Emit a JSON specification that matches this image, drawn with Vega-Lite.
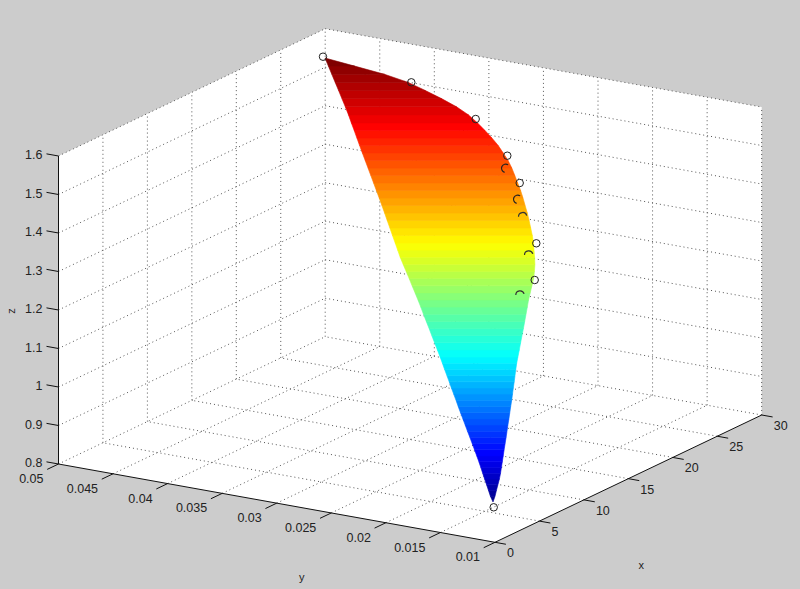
{
"$schema":"https://vega.github.io/schema/vega-lite/v6.json",
"width":800,"height":589,"padding":0,
"autosize":{"type":"fit","contains":"padding"},
"background":"#cccccc",
"config":{"view":{"stroke":null},"text":{"font":"Liberation Sans"}},
"layer":[
{"data":{"values":[
{"x":0,"y":0.05,"z":1.6,"xb":0,"yb":0.05,"zb":0.8},
{"x":30,"y":0.05,"z":1.6,"xb":0,"yb":0.02558,"zb":0.8},
{"x":30,"y":0.03444,"z":1.6,"xb":0,"yb":0.01,"zb":0.8},
{"x":30,"y":0.01,"z":1.6,"xb":30,"yb":0.01,"zb":0.8}]},
"transform":[
{"calculate":"495+8.89*datum.x-10912.5*(datum.y-0.01)","as":"sx"},
{"calculate":"542.3-4.243*datum.x-1957.5*(datum.y-0.01)-385*(datum.z-0.8)","as":"sy"},
{"calculate":"542.3-4.243*datum.xb-1957.5*(datum.yb-0.01)-385*(datum.zb-0.8)","as":"sy2"}],
"mark":{"type":"area","orient":"vertical","color":"#ffffff"},
"encoding":{"x":{"field":"sx","type":"quantitative","scale":{"domain":[0,800]},"axis":null},
"y":{"field":"sy","type":"quantitative","scale":{"domain":[589,0]},"axis":null,"stack":null},
"y2":{"field":"sy2"}}},
{"data":{"values":[
{"x":5,"y":0.01,"z":0.8,"xEnd":5,"yEnd":0.05,"zEnd":0.8},
{"x":10,"y":0.01,"z":0.8,"xEnd":10,"yEnd":0.05,"zEnd":0.8},
{"x":15,"y":0.01,"z":0.8,"xEnd":15,"yEnd":0.05,"zEnd":0.8},
{"x":20,"y":0.01,"z":0.8,"xEnd":20,"yEnd":0.05,"zEnd":0.8},
{"x":25,"y":0.01,"z":0.8,"xEnd":25,"yEnd":0.05,"zEnd":0.8},
{"x":30,"y":0.01,"z":0.8,"xEnd":30,"yEnd":0.05,"zEnd":0.8},
{"x":0,"y":0.015,"z":0.8,"xEnd":30,"yEnd":0.015,"zEnd":0.8},
{"x":0,"y":0.02,"z":0.8,"xEnd":30,"yEnd":0.02,"zEnd":0.8},
{"x":0,"y":0.025,"z":0.8,"xEnd":30,"yEnd":0.025,"zEnd":0.8},
{"x":0,"y":0.03,"z":0.8,"xEnd":30,"yEnd":0.03,"zEnd":0.8},
{"x":0,"y":0.035,"z":0.8,"xEnd":30,"yEnd":0.035,"zEnd":0.8},
{"x":0,"y":0.04,"z":0.8,"xEnd":30,"yEnd":0.04,"zEnd":0.8},
{"x":0,"y":0.045,"z":0.8,"xEnd":30,"yEnd":0.045,"zEnd":0.8},
{"x":0,"y":0.05,"z":0.8,"xEnd":30,"yEnd":0.05,"zEnd":0.8},
{"x":5,"y":0.05,"z":0.8,"xEnd":5,"yEnd":0.05,"zEnd":1.6},
{"x":10,"y":0.05,"z":0.8,"xEnd":10,"yEnd":0.05,"zEnd":1.6},
{"x":15,"y":0.05,"z":0.8,"xEnd":15,"yEnd":0.05,"zEnd":1.6},
{"x":20,"y":0.05,"z":0.8,"xEnd":20,"yEnd":0.05,"zEnd":1.6},
{"x":25,"y":0.05,"z":0.8,"xEnd":25,"yEnd":0.05,"zEnd":1.6},
{"x":30,"y":0.05,"z":0.8,"xEnd":30,"yEnd":0.05,"zEnd":1.6},
{"x":0,"y":0.05,"z":0.9,"xEnd":30,"yEnd":0.05,"zEnd":0.9},
{"x":0,"y":0.05,"z":1.0,"xEnd":30,"yEnd":0.05,"zEnd":1.0},
{"x":0,"y":0.05,"z":1.1,"xEnd":30,"yEnd":0.05,"zEnd":1.1},
{"x":0,"y":0.05,"z":1.2,"xEnd":30,"yEnd":0.05,"zEnd":1.2},
{"x":0,"y":0.05,"z":1.3,"xEnd":30,"yEnd":0.05,"zEnd":1.3},
{"x":0,"y":0.05,"z":1.4,"xEnd":30,"yEnd":0.05,"zEnd":1.4},
{"x":0,"y":0.05,"z":1.5,"xEnd":30,"yEnd":0.05,"zEnd":1.5},
{"x":0,"y":0.05,"z":1.6,"xEnd":30,"yEnd":0.05,"zEnd":1.6},
{"x":30,"y":0.01,"z":0.8,"xEnd":30,"yEnd":0.01,"zEnd":1.6},
{"x":30,"y":0.015,"z":0.8,"xEnd":30,"yEnd":0.015,"zEnd":1.6},
{"x":30,"y":0.02,"z":0.8,"xEnd":30,"yEnd":0.02,"zEnd":1.6},
{"x":30,"y":0.025,"z":0.8,"xEnd":30,"yEnd":0.025,"zEnd":1.6},
{"x":30,"y":0.03,"z":0.8,"xEnd":30,"yEnd":0.03,"zEnd":1.6},
{"x":30,"y":0.035,"z":0.8,"xEnd":30,"yEnd":0.035,"zEnd":1.6},
{"x":30,"y":0.04,"z":0.8,"xEnd":30,"yEnd":0.04,"zEnd":1.6},
{"x":30,"y":0.045,"z":0.8,"xEnd":30,"yEnd":0.045,"zEnd":1.6},
{"x":30,"y":0.05,"z":0.9,"xEnd":30,"yEnd":0.01,"zEnd":0.9},
{"x":30,"y":0.05,"z":1.0,"xEnd":30,"yEnd":0.01,"zEnd":1.0},
{"x":30,"y":0.05,"z":1.1,"xEnd":30,"yEnd":0.01,"zEnd":1.1},
{"x":30,"y":0.05,"z":1.2,"xEnd":30,"yEnd":0.01,"zEnd":1.2},
{"x":30,"y":0.05,"z":1.3,"xEnd":30,"yEnd":0.01,"zEnd":1.3},
{"x":30,"y":0.05,"z":1.4,"xEnd":30,"yEnd":0.01,"zEnd":1.4},
{"x":30,"y":0.05,"z":1.5,"xEnd":30,"yEnd":0.01,"zEnd":1.5},
{"x":30,"y":0.05,"z":1.6,"xEnd":30,"yEnd":0.01,"zEnd":1.6}]},
"transform":[
{"calculate":"495+8.89*datum.x-10912.5*(datum.y-0.01)","as":"sx"},
{"calculate":"542.3-4.243*datum.x-1957.5*(datum.y-0.01)-385*(datum.z-0.8)","as":"sy"},
{"calculate":"495+8.89*datum.xEnd-10912.5*(datum.yEnd-0.01)","as":"sxEnd"},
{"calculate":"542.3-4.243*datum.xEnd-1957.5*(datum.yEnd-0.01)-385*(datum.zEnd-0.8)","as":"syEnd"}],
"mark":{"type":"rule","color":"#555555","strokeWidth":1,"strokeDash":[1,3]},
"encoding":{"x":{"field":"sx","type":"quantitative","scale":{"domain":[0,800]},"axis":null},
"y":{"field":"sy","type":"quantitative","scale":{"domain":[589,0]},"axis":null},
"x2":{"field":"sxEnd"},"y2":{"field":"syEnd"}}},
{"data":{"values":[
{"z":0.891,"v":[502,496.3],"left":[493,490.4],"right":[493,495]},
{"z":0.901,"v":[496.3,490.5],"left":[490.4,488.5],"right":[495,496.4]},
{"z":0.911,"v":[490.5,484.8],"left":[488.5,486.6],"right":[496.4,497.9]},
{"z":0.921,"v":[484.8,479],"left":[486.6,484.6],"right":[497.9,499.4]},
{"z":0.931,"v":[479,473.3],"left":[484.6,482.7],"right":[499.4,500.5]},
{"z":0.942,"v":[473.3,467.5],"left":[482.7,480.8],"right":[500.5,501.4]},
{"z":0.952,"v":[467.5,461.8],"left":[480.8,478.9],"right":[501.4,502.3]},
{"z":0.962,"v":[461.8,456],"left":[478.9,476.8],"right":[502.3,503.2]},
{"z":0.972,"v":[456,449.8],"left":[476.8,474.5],"right":[503.2,504.1]},
{"z":0.982,"v":[449.8,443.6],"left":[474.5,472.2],"right":[504.1,505.1]},
{"z":0.992,"v":[443.6,437.4],"left":[472.2,469.9],"right":[505.1,506.1]},
{"z":1.002,"v":[437.4,431.3],"left":[469.9,467.5],"right":[506.1,507]},
{"z":1.012,"v":[431.3,425.1],"left":[467.5,465.2],"right":[507,507.9]},
{"z":1.022,"v":[425.1,418.9],"left":[465.2,462.9],"right":[507.9,508.9]},
{"z":1.032,"v":[418.9,412.7],"left":[462.9,460.5],"right":[508.9,509.8]},
{"z":1.043,"v":[412.7,406.5],"left":[460.5,458.2],"right":[509.8,510.7]},
{"z":1.053,"v":[406.5,400.3],"left":[458.2,456],"right":[510.7,511.7]},
{"z":1.063,"v":[400.3,394.1],"left":[456,453.7],"right":[511.7,512.5]},
{"z":1.073,"v":[394.1,387.9],"left":[453.7,451.4],"right":[512.5,513.3]},
{"z":1.083,"v":[387.9,381.8],"left":[451.4,449.2],"right":[513.3,514.2]},
{"z":1.093,"v":[381.8,375.6],"left":[449.2,446.9],"right":[514.2,515]},
{"z":1.103,"v":[375.6,369.4],"left":[446.9,444.6],"right":[515,515.8]},
{"z":1.113,"v":[369.4,363.2],"left":[444.6,442.4],"right":[515.8,516.7]},
{"z":1.123,"v":[363.2,357],"left":[442.4,440.1],"right":[516.7,517.9]},
{"z":1.133,"v":[357,349.9],"left":[440.1,437.4],"right":[517.9,519.3]},
{"z":1.144,"v":[349.9,342.8],"left":[437.4,434.6],"right":[519.3,520.6]},
{"z":1.154,"v":[342.8,335.6],"left":[434.6,431.8],"right":[520.6,522]},
{"z":1.164,"v":[335.6,328.5],"left":[431.8,429.1],"right":[522,523.4]},
{"z":1.174,"v":[328.5,321.4],"left":[429.1,426.3],"right":[523.4,524.7]},
{"z":1.184,"v":[321.4,314.3],"left":[426.3,423.5],"right":[524.7,526]},
{"z":1.194,"v":[314.3,307.1],"left":[423.5,420.8],"right":[526,527.3]},
{"z":1.204,"v":[307.1,300],"left":[420.8,418],"right":[527.3,528.5]},
{"z":1.214,"v":[300,292.9],"left":[418,415.1],"right":[528.5,530.2]},
{"z":1.224,"v":[292.9,285.8],"left":[415.1,412.1],"right":[530.2,531.9]},
{"z":1.234,"v":[285.8,278.6],"left":[412.1,409.2],"right":[531.9,533.6]},
{"z":1.245,"v":[278.6,271.5],"left":[409.2,406.2],"right":[533.6,534.4]},
{"z":1.255,"v":[271.5,264.4],"left":[406.2,403.2],"right":[534.4,534.9]},
{"z":1.265,"v":[264.4,257.3],"left":[403.2,400.2],"right":[534.9,534.6]},
{"z":1.275,"v":[257.3,250.1],"left":[400.2,397.7],"right":[534.6,534]},
{"z":1.285,"v":[250.1,243],"left":[397.7,395.2],"right":[534,533.5]},
{"z":1.295,"v":[243,235.5],"left":[395.2,392.5],"right":[533.5,532.3]},
{"z":1.305,"v":[235.5,228],"left":[392.5,389.9],"right":[532.3,530.7]},
{"z":1.315,"v":[228,220.5],"left":[389.9,387.2],"right":[530.7,529.1]},
{"z":1.325,"v":[220.5,213],"left":[387.2,384.6],"right":[529.1,527.3]},
{"z":1.335,"v":[213,205.5],"left":[384.6,381.9],"right":[527.3,525.1]},
{"z":1.346,"v":[205.5,198],"left":[381.9,379.2],"right":[525.1,523]},
{"z":1.356,"v":[198,190.5],"left":[379.2,376.4],"right":[523,520.6]},
{"z":1.366,"v":[190.5,183],"left":[376.4,373.6],"right":[520.6,517.7]},
{"z":1.376,"v":[183,175.5],"left":[373.6,370.8],"right":[517.7,514.8]},
{"z":1.386,"v":[175.5,168],"left":[370.8,368],"right":[514.8,511.8]},
{"z":1.396,"v":[168,160.5],"left":[368,365.2],"right":[511.8,508.1]},
{"z":1.406,"v":[160.5,153],"left":[365.2,362.4],"right":[508.1,503.2]},
{"z":1.416,"v":[153,145.5],"left":[362.4,359.6],"right":[503.2,498.2]},
{"z":1.426,"v":[145.5,138],"left":[359.6,356.9],"right":[498.2,491.9]},
{"z":1.436,"v":[138,130.5],"left":[356.9,354.2],"right":[491.9,485]},
{"z":1.447,"v":[130.5,123],"left":[354.2,351.4],"right":[485,477.6]},
{"z":1.457,"v":[123,114.9],"left":[351.4,348.5],"right":[477.6,468.5]},
{"z":1.467,"v":[114.9,106.8],"left":[348.5,345.3],"right":[468.5,456.5]},
{"z":1.477,"v":[106.8,98.6],"left":[345.3,341.9],"right":[456.5,441.5]},
{"z":1.487,"v":[98.6,90.5],"left":[341.9,338.6],"right":[441.5,425.3]},
{"z":1.497,"v":[90.5,82.4],"left":[338.6,335.2],"right":[425.3,408.2]},
{"z":1.507,"v":[82.4,74.3],"left":[335.2,331.8],"right":[408.2,384.5]},
{"z":1.517,"v":[74.3,66.1],"left":[331.8,328.4],"right":[384.5,354.6]},
{"z":1.527,"v":[66.1,58],"left":[328.4,325],"right":[354.6,325]}]},
"transform":[{"flatten":["v","left","right"]}],
"mark":{"type":"area","orient":"horizontal","strokeWidth":0.6},
"encoding":{"y":{"field":"v","type":"quantitative","scale":{"domain":[589,0]},"axis":null},
"x":{"field":"left","type":"quantitative","scale":{"domain":[0,800]},"axis":null,"stack":null},
"x2":{"field":"right"},
"detail":{"field":"z"},
"fill":{"field":"z","type":"quantitative","legend":null,"scale":{"domain":[0.891,0.9705,1.1295,1.2885,1.4475,1.527],"range":["#00008f","#0000ff","#00ffff","#ffff00","#ff0000","#800000"],"interpolate":"rgb"}},
"stroke":{"field":"z","type":"quantitative","legend":null,"scale":{"domain":[0.891,0.9705,1.1295,1.2885,1.4475,1.527],"range":["#00008f","#0000ff","#00ffff","#ffff00","#ff0000","#800000"],"interpolate":"rgb"}}}},
{"data":{"values":[
{"h":323,"v":56.7},{"h":411.3,"v":82.3},{"h":475.7,"v":119},{"h":507.3,"v":155.7},{"h":519.7,"v":183},{"h":536.3,"v":243.3},{"h":534.7,"v":280},{"h":493.7,"v":507.3}]},
"mark":{"type":"point","filled":false,"size":56,"color":"#222222","strokeWidth":1,"opacity":1},
"encoding":{"x":{"field":"h","type":"quantitative","scale":{"domain":[0,800]},"axis":null},
"y":{"field":"v","type":"quantitative","scale":{"domain":[589,0]},"axis":null}}},
{"data":{"values":[{"h":505.7,"v":168.3},{"h":517.7,"v":199.3}]},
"mark":{"type":"arc","innerRadius":3.6,"outerRadius":4.8,"theta":3.4,"theta2":6.9,"color":"#222222"},
"encoding":{"x":{"field":"h","type":"quantitative","scale":{"domain":[0,800]},"axis":null},
"y":{"field":"v","type":"quantitative","scale":{"domain":[589,0]},"axis":null}}},
{"data":{"values":[{"h":522.7,"v":216.7},{"h":528.7,"v":255},{"h":520,"v":295}]},
"mark":{"type":"arc","innerRadius":3.6,"outerRadius":4.8,"theta":4.7,"theta2":7.6,"color":"#333333"},
"encoding":{"x":{"field":"h","type":"quantitative","scale":{"domain":[0,800]},"axis":null},
"y":{"field":"v","type":"quantitative","scale":{"domain":[589,0]},"axis":null}}},
{"data":{"values":[
{"x":0,"y":0.05,"z":0.8,"xEnd":0,"yEnd":0.05,"zEnd":1.6},
{"x":0,"y":0.05,"z":0.8,"xEnd":0,"yEnd":0.01,"zEnd":0.8},
{"x":0,"y":0.01,"z":0.8,"xEnd":30,"yEnd":0.01,"zEnd":0.8},
{"x":0,"y":0.05,"z":0.8,"xEnd":0,"yEnd":0.0511,"zEnd":0.8},
{"x":0,"y":0.05,"z":0.9,"xEnd":0,"yEnd":0.0511,"zEnd":0.9},
{"x":0,"y":0.05,"z":1.0,"xEnd":0,"yEnd":0.0511,"zEnd":1.0},
{"x":0,"y":0.05,"z":1.1,"xEnd":0,"yEnd":0.0511,"zEnd":1.1},
{"x":0,"y":0.05,"z":1.2,"xEnd":0,"yEnd":0.0511,"zEnd":1.2},
{"x":0,"y":0.05,"z":1.3,"xEnd":0,"yEnd":0.0511,"zEnd":1.3},
{"x":0,"y":0.05,"z":1.4,"xEnd":0,"yEnd":0.0511,"zEnd":1.4},
{"x":0,"y":0.05,"z":1.5,"xEnd":0,"yEnd":0.0511,"zEnd":1.5},
{"x":0,"y":0.05,"z":1.6,"xEnd":0,"yEnd":0.0511,"zEnd":1.6},
{"x":0,"y":0.05,"z":0.8,"xEnd":-1.27,"yEnd":0.05,"zEnd":0.8},
{"x":0,"y":0.045,"z":0.8,"xEnd":-1.27,"yEnd":0.045,"zEnd":0.8},
{"x":0,"y":0.04,"z":0.8,"xEnd":-1.27,"yEnd":0.04,"zEnd":0.8},
{"x":0,"y":0.035,"z":0.8,"xEnd":-1.27,"yEnd":0.035,"zEnd":0.8},
{"x":0,"y":0.03,"z":0.8,"xEnd":-1.27,"yEnd":0.03,"zEnd":0.8},
{"x":0,"y":0.025,"z":0.8,"xEnd":-1.27,"yEnd":0.025,"zEnd":0.8},
{"x":0,"y":0.02,"z":0.8,"xEnd":-1.27,"yEnd":0.02,"zEnd":0.8},
{"x":0,"y":0.015,"z":0.8,"xEnd":-1.27,"yEnd":0.015,"zEnd":0.8},
{"x":0,"y":0.01,"z":0.8,"xEnd":-1.27,"yEnd":0.01,"zEnd":0.8},
{"x":0,"y":0.01,"z":0.8,"xEnd":0,"yEnd":0.009,"zEnd":0.8},
{"x":5,"y":0.01,"z":0.8,"xEnd":5,"yEnd":0.009,"zEnd":0.8},
{"x":10,"y":0.01,"z":0.8,"xEnd":10,"yEnd":0.009,"zEnd":0.8},
{"x":15,"y":0.01,"z":0.8,"xEnd":15,"yEnd":0.009,"zEnd":0.8},
{"x":20,"y":0.01,"z":0.8,"xEnd":20,"yEnd":0.009,"zEnd":0.8},
{"x":25,"y":0.01,"z":0.8,"xEnd":25,"yEnd":0.009,"zEnd":0.8},
{"x":30,"y":0.01,"z":0.8,"xEnd":30,"yEnd":0.009,"zEnd":0.8}]},
"transform":[
{"calculate":"495+8.89*datum.x-10912.5*(datum.y-0.01)","as":"sx"},
{"calculate":"542.3-4.243*datum.x-1957.5*(datum.y-0.01)-385*(datum.z-0.8)","as":"sy"},
{"calculate":"495+8.89*datum.xEnd-10912.5*(datum.yEnd-0.01)","as":"sxEnd"},
{"calculate":"542.3-4.243*datum.xEnd-1957.5*(datum.yEnd-0.01)-385*(datum.zEnd-0.8)","as":"syEnd"}],
"mark":{"type":"rule","color":"#111111","strokeWidth":1},
"encoding":{"x":{"field":"sx","type":"quantitative","scale":{"domain":[0,800]},"axis":null},
"y":{"field":"sy","type":"quantitative","scale":{"domain":[589,0]},"axis":null},
"x2":{"field":"sxEnd"},"y2":{"field":"syEnd"}}},
{"data":{"values":[
{"x":0,"y":0.05,"z":0.8,"label":"0.8"},{"x":0,"y":0.05,"z":0.9,"label":"0.9"},{"x":0,"y":0.05,"z":1.0,"label":"1"},{"x":0,"y":0.05,"z":1.1,"label":"1.1"},{"x":0,"y":0.05,"z":1.2,"label":"1.2"},{"x":0,"y":0.05,"z":1.3,"label":"1.3"},{"x":0,"y":0.05,"z":1.4,"label":"1.4"},{"x":0,"y":0.05,"z":1.5,"label":"1.5"},{"x":0,"y":0.05,"z":1.6,"label":"1.6"}]},
"transform":[
{"calculate":"495+8.89*datum.x-10912.5*(datum.y-0.01)","as":"sx"},
{"calculate":"542.3-4.243*datum.x-1957.5*(datum.y-0.01)-385*(datum.z-0.8)","as":"sy"}],
"mark":{"type":"text","align":"right","baseline":"middle","dx":-16,"dy":-1,"fontSize":12.5,"color":"#222222","font":"Liberation Sans"},
"encoding":{"x":{"field":"sx","type":"quantitative","scale":{"domain":[0,800]},"axis":null},
"y":{"field":"sy","type":"quantitative","scale":{"domain":[589,0]},"axis":null},
"text":{"field":"label"}}},
{"data":{"values":[
{"x":0,"y":0.05,"z":0.8,"label":"0.05"},{"x":0,"y":0.045,"z":0.8,"label":"0.045"},{"x":0,"y":0.04,"z":0.8,"label":"0.04"},{"x":0,"y":0.035,"z":0.8,"label":"0.035"},{"x":0,"y":0.03,"z":0.8,"label":"0.03"},{"x":0,"y":0.025,"z":0.8,"label":"0.025"},{"x":0,"y":0.02,"z":0.8,"label":"0.02"},{"x":0,"y":0.015,"z":0.8,"label":"0.015"},{"x":0,"y":0.01,"z":0.8,"label":"0.01"}]},
"transform":[
{"calculate":"495+8.89*datum.x-10912.5*(datum.y-0.01)","as":"sx"},
{"calculate":"542.3-4.243*datum.x-1957.5*(datum.y-0.01)-385*(datum.z-0.8)","as":"sy"}],
"mark":{"type":"text","align":"right","baseline":"middle","dx":-15,"dy":15,"fontSize":12.5,"color":"#222222","font":"Liberation Sans"},
"encoding":{"x":{"field":"sx","type":"quantitative","scale":{"domain":[0,800]},"axis":null},
"y":{"field":"sy","type":"quantitative","scale":{"domain":[589,0]},"axis":null},
"text":{"field":"label"}}},
{"data":{"values":[
{"x":0,"y":0.01,"z":0.8,"label":"0"},{"x":5,"y":0.01,"z":0.8,"label":"5"},{"x":10,"y":0.01,"z":0.8,"label":"10"},{"x":15,"y":0.01,"z":0.8,"label":"15"},{"x":20,"y":0.01,"z":0.8,"label":"20"},{"x":25,"y":0.01,"z":0.8,"label":"25"},{"x":30,"y":0.01,"z":0.8,"label":"30"}]},
"transform":[
{"calculate":"495+8.89*datum.x-10912.5*(datum.y-0.01)","as":"sx"},
{"calculate":"542.3-4.243*datum.x-1957.5*(datum.y-0.01)-385*(datum.z-0.8)","as":"sy"}],
"mark":{"type":"text","align":"left","baseline":"middle","dx":12,"dy":11,"fontSize":12.5,"color":"#222222","font":"Liberation Sans"},
"encoding":{"x":{"field":"sx","type":"quantitative","scale":{"domain":[0,800]},"axis":null},
"y":{"field":"sy","type":"quantitative","scale":{"domain":[589,0]},"axis":null},
"text":{"field":"label"}}},
{"data":{"values":[{"x":15,"y":0.01,"z":0.8,"label":"x"}]},
"transform":[
{"calculate":"495+8.89*datum.x-10912.5*(datum.y-0.01)","as":"sx"},
{"calculate":"542.3-4.243*datum.x-1957.5*(datum.y-0.01)-385*(datum.z-0.8)","as":"sy"}],
"mark":{"type":"text","align":"center","baseline":"middle","dx":13,"dy":87,"fontSize":11,"color":"#222222","font":"Liberation Sans"},
"encoding":{"x":{"field":"sx","type":"quantitative","scale":{"domain":[0,800]},"axis":null},
"y":{"field":"sy","type":"quantitative","scale":{"domain":[589,0]},"axis":null},
"text":{"field":"label"}}},
{"data":{"values":[{"x":0,"y":0.03,"z":0.8,"label":"y"}]},
"transform":[
{"calculate":"495+8.89*datum.x-10912.5*(datum.y-0.01)","as":"sx"},
{"calculate":"542.3-4.243*datum.x-1957.5*(datum.y-0.01)-385*(datum.z-0.8)","as":"sy"}],
"mark":{"type":"text","align":"center","baseline":"middle","dx":25,"dy":75,"fontSize":11,"color":"#222222","font":"Liberation Sans"},
"encoding":{"x":{"field":"sx","type":"quantitative","scale":{"domain":[0,800]},"axis":null},
"y":{"field":"sy","type":"quantitative","scale":{"domain":[589,0]},"axis":null},
"text":{"field":"label"}}},
{"data":{"values":[{"x":0,"y":0.05,"z":1.2,"label":"z"}]},
"transform":[
{"calculate":"495+8.89*datum.x-10912.5*(datum.y-0.01)","as":"sx"},
{"calculate":"542.3-4.243*datum.x-1957.5*(datum.y-0.01)-385*(datum.z-0.8)","as":"sy"}],
"mark":{"type":"text","align":"center","baseline":"middle","angle":270,"dx":-1,"dy":-46.5,"fontSize":11,"color":"#222222","font":"Liberation Sans"},
"encoding":{"x":{"field":"sx","type":"quantitative","scale":{"domain":[0,800]},"axis":null},
"y":{"field":"sy","type":"quantitative","scale":{"domain":[589,0]},"axis":null},
"text":{"field":"label"}}}
]
}
